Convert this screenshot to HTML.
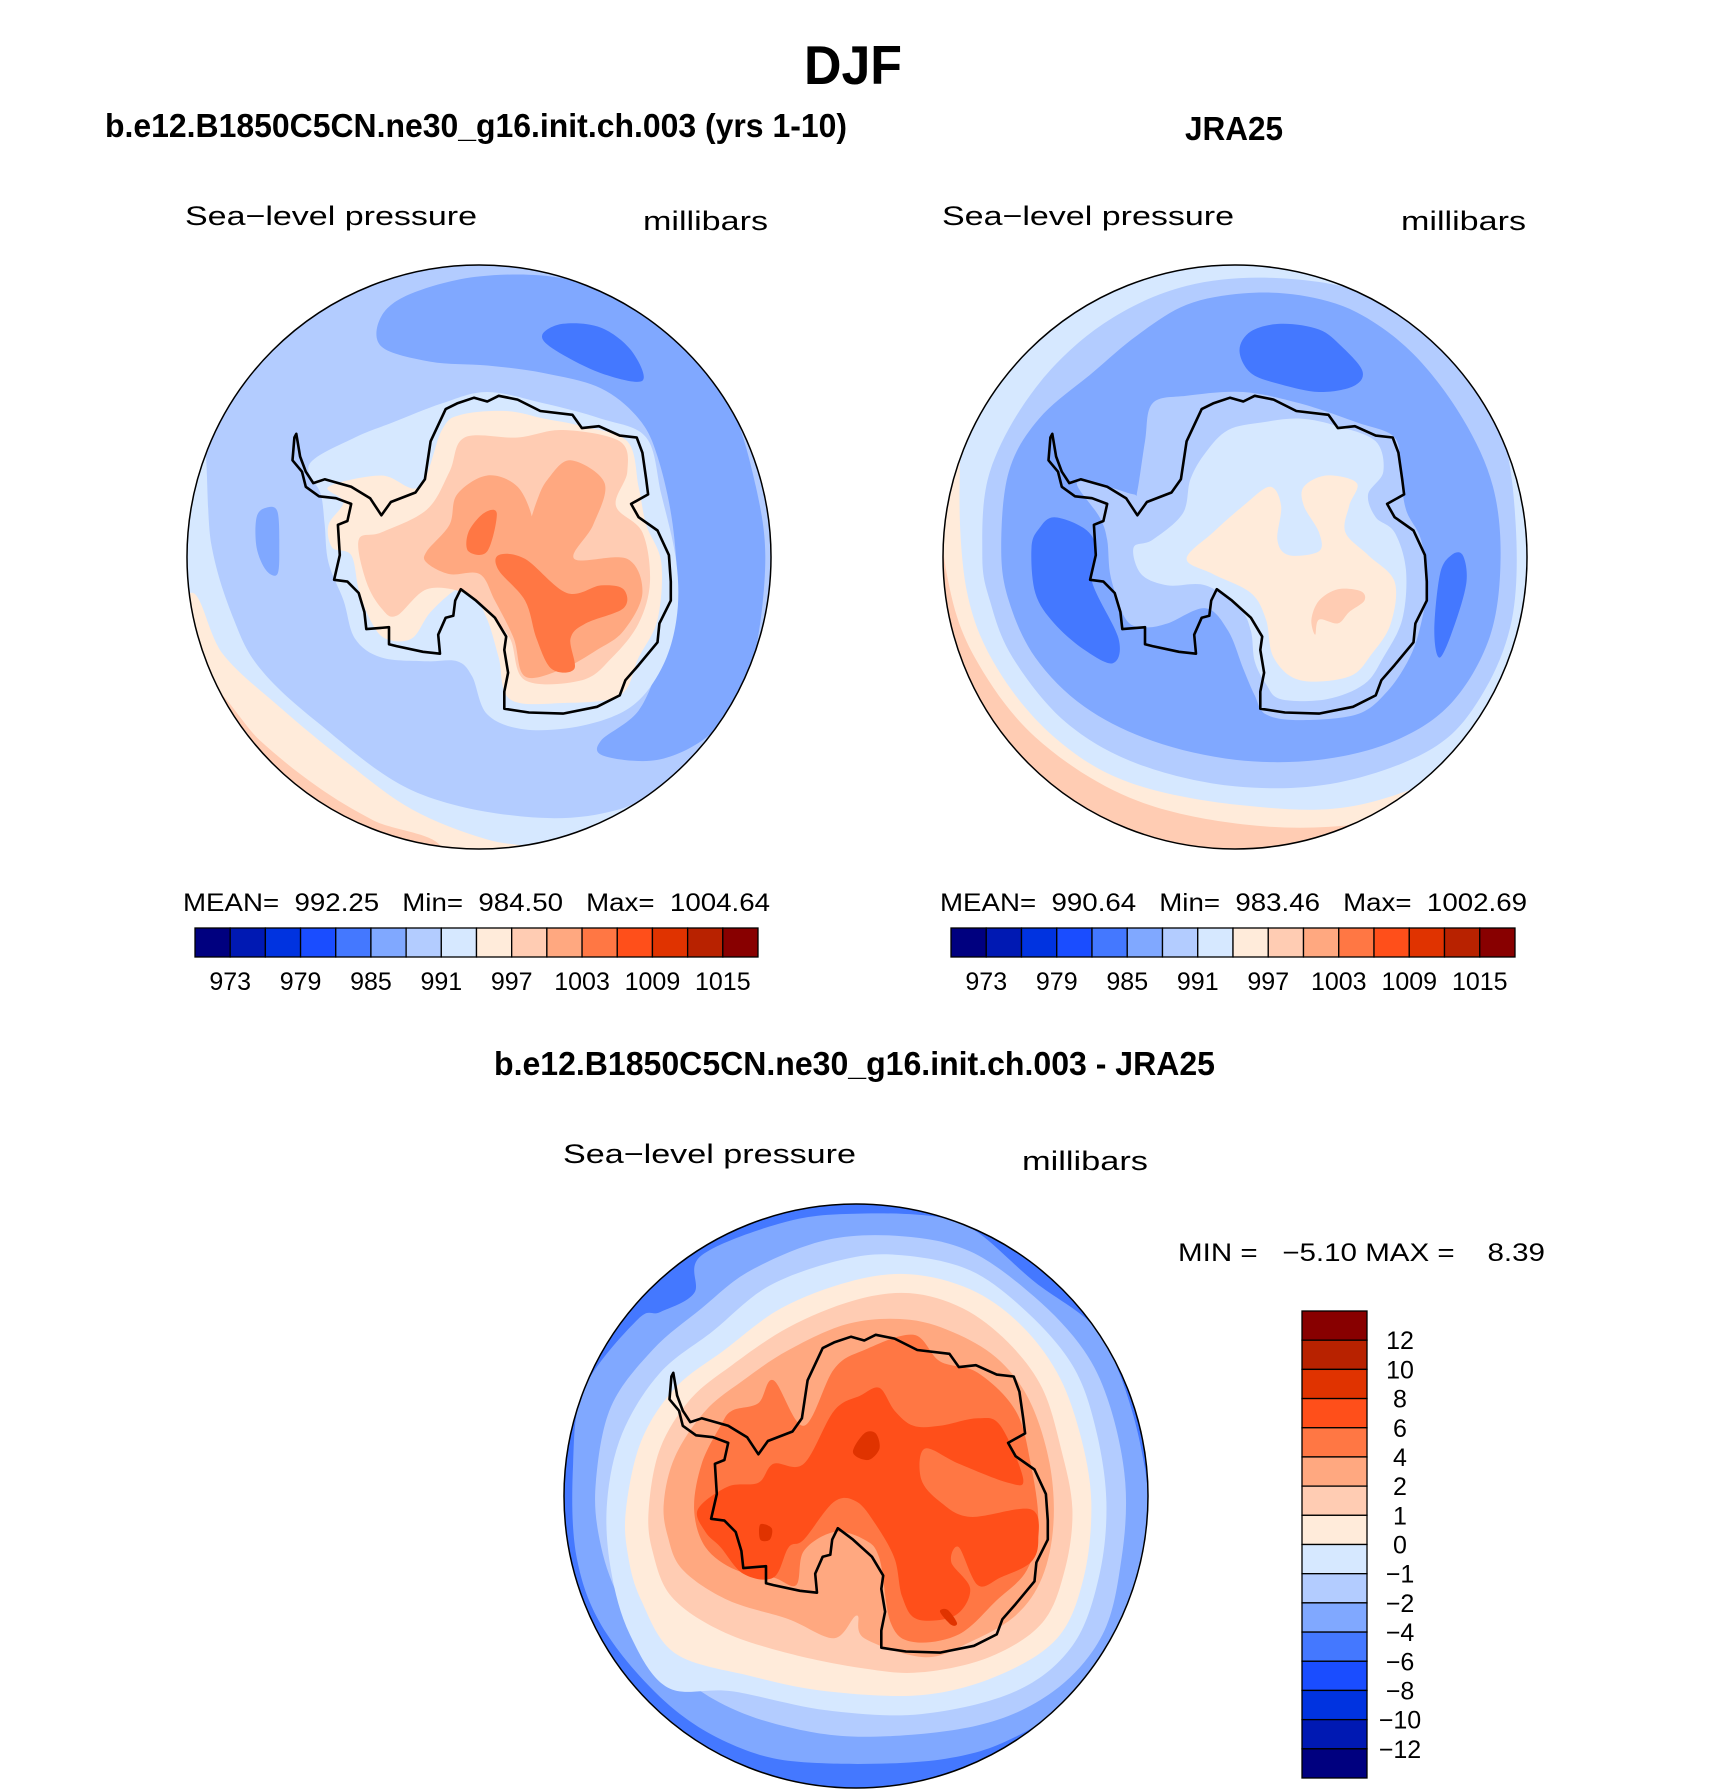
<!DOCTYPE html>
<html><head><meta charset="utf-8">
<style>
html,body{margin:0;padding:0;background:#fff;}
svg{display:block;}
text{font-family:"Liberation Sans",sans-serif;fill:#000;}
</style></head>
<body>
<svg id="fig" width="1710" height="1790" viewBox="0 0 1710 1790" xmlns="http://www.w3.org/2000/svg">
<rect x="0" y="0" width="1710" height="1790" fill="#fff"/>
<text x="804" y="84" font-size="55" font-weight="bold" textLength="98" lengthAdjust="spacingAndGlyphs">DJF</text>
<text x="105" y="137" font-size="33" font-weight="bold" textLength="742" lengthAdjust="spacingAndGlyphs">b.e12.B1850C5CN.ne30_g16.init.ch.003 (yrs 1-10)</text>
<text x="1185" y="140" font-size="33" font-weight="bold" textLength="98" lengthAdjust="spacingAndGlyphs">JRA25</text>
<text x="494" y="1075" font-size="33" font-weight="bold" textLength="721" lengthAdjust="spacingAndGlyphs">b.e12.B1850C5CN.ne30_g16.init.ch.003 - JRA25</text>

<text x="185" y="225" font-size="27" textLength="292" lengthAdjust="spacingAndGlyphs">Sea−level pressure</text>
<text x="643" y="230" font-size="27" textLength="125" lengthAdjust="spacingAndGlyphs">millibars</text>
<text x="942" y="225" font-size="27" textLength="292" lengthAdjust="spacingAndGlyphs">Sea−level pressure</text>
<text x="1401" y="230" font-size="27" textLength="125" lengthAdjust="spacingAndGlyphs">millibars</text>
<text x="563" y="1163" font-size="27" textLength="293" lengthAdjust="spacingAndGlyphs">Sea−level pressure</text>
<text x="1022" y="1170" font-size="27" textLength="126" lengthAdjust="spacingAndGlyphs">millibars</text>

<text x="183" y="911" font-size="25" xml:space="preserve" textLength="587" lengthAdjust="spacingAndGlyphs">MEAN=  992.25   Min=  984.50   Max=  1004.64</text>
<text x="940" y="911" font-size="25" xml:space="preserve" textLength="587" lengthAdjust="spacingAndGlyphs">MEAN=  990.64   Min=  983.46   Max=  1002.69</text>
<text x="1178" y="1261" font-size="25" xml:space="preserve" textLength="367" lengthAdjust="spacingAndGlyphs">MIN =   −5.10 MAX =    8.39</text>
<g id="layer"></g>
</svg>
<script>
const NS = "http://www.w3.org/2000/svg";
const absColors = ["#00007F","#0019B3","#0033E0","#1A4DFF","#4478FF","#80A8FF","#B3CCFF","#D6E8FF","#FFEBDA","#FFCCB3","#FFA880","#FF7744","#FF4F1A","#E03300","#B82200","#880000"];
const absTickLabels = ["973","979","985","991","997","1003","1009","1015"];
const diffTickLabels = ["12","10","8","6","4","2","1","0","−1","−2","−4","−6","−8","−10","−12"];

const leftBase = 6;
const leftContours = [
 {level:7, pts:[[40,450],[70,750],[130,950],[200,1080],[350,1220],[600,1400],[900,1470],[1150,1450],[1400,1330],[1600,1450],[1300,1750],[400,1800],[-50,1400],[-80,800]]},
 {level:8, pts:[[15,880],[100,1040],[250,1180],[420,1320],[600,1450],[800,1530],[1000,1570],[1100,1700],[500,1800],[0,1500],[-80,1100]]},
 {level:9, pts:[[50,1120],[200,1270],[350,1390],[500,1480],[680,1560],[500,1750],[100,1650],[-60,1300]]},
 {level:10, pts:[[90,1240],[200,1360],[330,1460],[450,1540],[300,1700],[0,1600],[-50,1350]]},
 {level:5, pts:[[520,150],[600,90],[780,45],[1000,50],[1200,125],[1350,250],[1450,400],[1510,600],[1535,780],[1515,1000],[1470,1150],[1380,1260],[1250,1320],[1110,1310],[1100,1270],[1200,1190],[1260,1050],[1300,900],[1290,700],[1250,520],[1200,420],[1100,340],[950,300],[800,280],[650,270],[520,230]]},
 {level:5, pts:[[190,680],[215,655],[245,665],[250,760],[245,830],[215,820],[190,760]]},
 {level:4, pts:[[945,200],[1000,170],[1100,180],[1180,240],[1210,320],[1100,300],[980,240]]},
 {level:7, pts:[[330,540],[450,470],[550,430],[680,380],[800,350],[950,380],[1100,420],[1220,470],[1260,620],[1300,800],[1300,950],[1260,1080],[1180,1180],[1050,1230],[900,1240],[800,1200],[760,1100],[720,1060],[640,1060],[520,1050],[450,1000],[420,900],[380,800],[370,700],[360,620]]},
 {level:8, pts:[[380,600],[520,570],[620,600],[680,450],[730,410],[850,400],[950,420],[1050,440],[1170,480],[1200,600],[1220,700],[1260,800],[1250,950],[1200,1050],[1150,1150],[1000,1170],[860,1160],[830,1050],[800,950],[760,880],[720,870],[650,930],[600,1000],[530,1000],[490,950],[460,870],[440,780],[390,760],[380,700],[420,640]]},
 {level:9, pts:[[460,740],[520,720],[640,660],[700,560],[740,470],[880,470],[1000,450],[1150,480],[1170,560],[1140,650],[1210,720],[1230,850],[1200,960],[1130,1050],[1050,1110],[900,1110],[860,1000],[800,930],[740,880],[640,870],[560,940],[520,920],[480,850]]},
 {level:10, pts:[[640,770],[700,700],[720,620],[800,570],[880,600],[920,690],[900,740],[930,640],[960,580],[1020,530],[1110,590],[1080,700],[1030,790],[1170,790],[1210,880],[1160,980],[1090,1030],[1000,1080],[900,1100],[870,1000],[820,900],[780,830],[700,830],[640,800]]},
 {level:11, pts:[[750,720],[790,670],[825,670],[800,770],[750,770]]},
 {level:11, pts:[[830,780],[900,790],[1010,880],[1100,860],[1160,870],[1160,920],[1060,960],[1020,1000],[1030,1080],[970,1080],[930,1000],[900,900],[830,820]]}
];

const rightBase = 9;
const rightContours = [
 {level:8, pts:[[0,-50],[1650,-50],[1650,1250],[1400,1420],[1100,1490],[800,1490],[500,1420],[250,1260],[90,1050],[20,850],[0,600]]},
 {level:7, pts:[[50,600],[80,400],[250,180],[450,60],[700,0],[1100,0],[1350,120],[1500,350],[1560,600],[1560,900],[1500,1150],[1400,1320],[1100,1440],[800,1440],[500,1380],[300,1260],[150,1080],[70,880]]},
 {level:6, pts:[[110,780],[130,560],[250,340],[430,170],[650,70],[900,50],[1150,100],[1350,250],[1480,450],[1520,700],[1510,950],[1430,1150],[1300,1290],[1050,1380],[780,1390],[520,1330],[330,1220],[190,1050],[130,900]]},
 {level:5, pts:[[160,760],[180,560],[260,420],[400,300],[520,200],[650,120],[800,90],[950,95],[1100,140],[1250,250],[1380,420],[1460,600],[1480,800],[1450,1000],[1350,1170],[1200,1270],[1000,1320],[780,1320],[560,1270],[380,1180],[250,1050],[180,900]]},
 {level:4, pts:[[790,240],[820,190],[900,170],[1000,185],[1060,230],[1115,295],[1090,335],[1000,350],[900,330],[820,300]]},
 {level:4, pts:[[240,760],[260,710],[300,680],[380,710],[410,760],[400,850],[470,1000],[455,1065],[380,1030],[300,960],[250,880]]},
 {level:4, pts:[[1320,830],[1350,780],[1380,780],[1390,850],[1360,960],[1320,1050],[1305,980]]},
 {level:6, pts:[[520,610],[540,480],[560,380],[650,360],[800,350],[950,380],[1100,430],[1200,470],[1215,560],[1230,660],[1270,740],[1285,860],[1270,960],[1240,1050],[1180,1140],[1100,1200],[950,1215],[860,1200],[830,1150],[800,1080],[760,980],[700,920],[600,960],[540,970],[490,950],[450,840],[440,740],[420,680],[360,590],[440,600],[510,620]]},
 {level:7, pts:[[510,760],[560,740],[640,670],[660,580],[700,510],[760,450],[850,430],[950,420],[1050,440],[1150,480],[1170,560],[1130,620],[1150,680],[1200,720],[1230,820],[1220,950],[1170,1050],[1120,1120],[1020,1160],[900,1160],[860,1120],[830,1060],[820,980],[790,920],[700,860],[600,860],[530,830]]},
 {level:8, pts:[[650,790],[720,720],[800,650],[870,600],[900,650],[890,740],[920,780],[1000,770],[1000,720],[960,650],[960,600],[1020,570],[1100,590],[1080,650],[1070,720],[1130,780],[1200,850],[1190,960],[1140,1040],[1080,1100],[950,1110],[880,1050],[860,950],[820,880],[720,830]]},
 {level:9, pts:[[1000,900],[1050,870],[1110,875],[1120,900],[1080,930],[1050,960],[1000,950],[990,990],[980,950]]}
];

const diffBase = 4;
const diffContours = [
 {level:5, pts:[[30,700],[60,500],[200,320],[260,300],[350,250],[370,150],[600,60],[800,40],[1000,50],[1100,90],[1250,220],[1400,330],[1470,450],[1530,650],[1550,850],[1500,1100],[1400,1280],[1200,1420],[1000,1480],[700,1490],[500,1460],[300,1350],[120,1150],[40,950]]},
 {level:6, pts:[[90,750],[130,550],[240,400],[370,290],[500,190],[700,110],[900,100],[1080,140],[1250,260],[1380,400],[1450,550],[1490,750],[1480,950],[1430,1150],[1300,1300],[1100,1390],[800,1420],[580,1390],[400,1320],[250,1200],[150,1050],[100,900]]},
 {level:7, pts:[[120,800],[160,620],[260,460],[400,350],[550,230],[750,160],[900,150],[1080,190],[1230,300],[1350,440],[1410,600],[1440,800],[1420,1000],[1350,1180],[1200,1300],[950,1360],[700,1350],[450,1300],[280,1290],[180,1150],[130,980]]},
 {level:8, pts:[[170,820],[210,640],[300,500],[430,400],[580,290],[760,220],[920,200],[1080,240],[1210,330],[1310,460],[1370,620],[1400,800],[1380,1000],[1310,1160],[1150,1260],[950,1310],[700,1300],[500,1260],[300,1200],[210,1060],[175,940]]},
 {level:9, pts:[[230,820],[260,660],[340,530],[450,440],[600,340],[770,270],[920,250],[1060,290],[1180,380],[1270,500],[1320,660],[1350,820],[1330,980],[1270,1120],[1130,1210],[950,1250],[800,1240],[600,1200],[420,1140],[290,1050],[240,930]]},
 {level:10, pts:[[270,800],[300,680],[380,560],[480,480],[600,400],[760,330],[920,320],[1050,360],[1160,430],[1240,540],[1290,700],[1300,860],[1270,1000],[1200,1100],[1080,1170],[960,1210],[800,1160],[780,1100],[720,1160],[600,1110],[440,1060],[320,980],[280,890]]},
 {level:11, pts:[[350,820],[370,700],[420,600],[450,560],[520,540],[560,480],[640,600],[720,450],[800,400],[930,360],[1000,430],[1100,460],[1200,560],[1240,700],[1260,860],[1230,980],[1150,1060],[1050,1150],[930,1170],[870,1120],[840,950],[800,900],[720,880],[640,930],[620,1020],[560,1000],[460,980],[380,920]]},
 {level:12, pts:[[360,820],[440,760],[520,750],[560,700],[640,700],[720,560],[790,520],[840,500],[880,560],[930,600],[1000,600],[1100,580],[1160,600],[1220,740],[1180,750],[1050,700],[960,660],[950,740],[1000,800],[1080,840],[1240,820],[1260,900],[1240,960],[1160,1000],[1100,1020],[1050,920],[1030,960],[1080,1030],[1040,1100],[940,1110],[900,1050],[880,950],[830,860],[780,800],[720,800],[640,900],[600,920],[560,1000],[480,990],[420,920],[380,880]]},
 {level:13, pts:[[770,670],[800,620],[830,620],[840,660],[810,690]]},
 {level:13, pts:[[525,860],[555,870],[550,900],[525,900]]},
 {level:13, pts:[[1000,1090],[1020,1085],[1045,1120],[1030,1125]]}
];

const coastline = [[295,460],[305,520],[320,560],[340,590],[370,580],[440,600],[490,630],[520,675],[545,640],[610,615],[635,580],[650,480],[690,395],[720,380],[765,365],[800,375],[830,360],[880,370],[940,400],[1025,410],[1050,445],[1095,440],[1150,465],[1195,470],[1210,510],[1220,580],[1225,620],[1180,645],[1200,680],[1250,715],[1280,780],[1285,850],[1285,900],[1255,960],[1250,1010],[1200,1070],[1165,1110],[1150,1150],[1090,1180],[1000,1198],[910,1195],[845,1185],[845,1140],[855,1090],[845,1030],[850,995],[820,945],[770,900],[730,870],[715,900],[710,940],[690,945],[670,990],[675,1040],[630,1035],[560,1020],[540,1015],[540,970],[480,975],[475,930],[460,880],[430,850],[395,845],[410,780],[405,700],[430,690],[440,645],[400,630],[355,625],[320,600],[310,560],[285,530],[290,470]];

const maps = [
 {name:"model-map", cx:479, cy:557, r:292, base:leftBase, contours:leftContours},
 {name:"obs-map", cx:1235, cy:557, r:292, base:rightBase, contours:rightContours},
 {name:"diff-map", cx:856, cy:1496, r:292, base:diffBase, contours:diffContours}
];

const layer = document.getElementById('layer');
function mk(tag, attrs){const e=document.createElementNS(NS,tag);for(const k in attrs)e.setAttribute(k,attrs[k]);return e;}
function proj(m,p){return [m.cx+(p[0]-778)/772*m.r, m.cy+(p[1]-785)/770*m.r];}
function smoothPath(pts){
  const n=pts.length;let d="M"+pts[0][0].toFixed(1)+","+pts[0][1].toFixed(1);
  for(let i=0;i<n;i++){
    const p0=pts[(i-1+n)%n],p1=pts[i],p2=pts[(i+1)%n],p3=pts[(i+2)%n];
    const c1=[p1[0]+(p2[0]-p0[0])/6,p1[1]+(p2[1]-p0[1])/6];
    const c2=[p2[0]-(p3[0]-p1[0])/6,p2[1]-(p3[1]-p1[1])/6];
    d+="C"+c1[0].toFixed(1)+","+c1[1].toFixed(1)+" "+c2[0].toFixed(1)+","+c2[1].toFixed(1)+" "+p2[0].toFixed(1)+","+p2[1].toFixed(1);
  }
  return d+"Z";
}
function linePath(pts){return "M"+pts.map(p=>p[0].toFixed(1)+","+p[1].toFixed(1)).join("L")+"Z";}

const defs = mk('defs',{});
layer.appendChild(defs);
maps.forEach((m,mi)=>{
  const cp = mk('clipPath',{id:'clip'+mi});
  cp.appendChild(mk('circle',{cx:m.cx,cy:m.cy,r:m.r}));
  defs.appendChild(cp);
  const g = mk('g',{'clip-path':'url(#clip'+mi+')'});
  
  
  const bg = mk('circle',{cx:m.cx,cy:m.cy,r:m.r,fill:absColors[m.base]});
  
  
  g.appendChild(bg);
  m.contours.forEach(c=>{
    const p = mk('path',{d:smoothPath(c.pts.map(q=>proj(m,q))),fill:absColors[c.level]});
    
    
    g.appendChild(p);
  });
  const coast = mk('path',{d:linePath(coastline.map(q=>proj(m,q))),fill:'none',stroke:'#000','stroke-width':2.6,'stroke-linejoin':'round'});
  
  
  g.appendChild(coast);
  layer.appendChild(g);
  const rim = mk('circle',{cx:m.cx,cy:m.cy,r:m.r,fill:'none',stroke:'#000','stroke-width':1.5});
  
  
  layer.appendChild(rim);
});

[{name:"model-colorbar",x0:195,x1:758},{name:"obs-colorbar",x0:951,x1:1515}].forEach(cb=>{
  const g = mk('g',{});
  
  
  const w=(cb.x1-cb.x0)/absColors.length;
  absColors.forEach((c,i)=>{
    const r = mk('rect',{x:cb.x0+i*w,y:928,width:w,height:29,fill:c,stroke:'#000','stroke-width':1.3});
    
    
    g.appendChild(r);
  });
  absTickLabels.forEach((t,i)=>{
    const tx = mk('text',{x:cb.x0+(1+2*i)*w,y:990,'font-size':25,'text-anchor':'middle'});
    tx.textContent=t;
    
    
    g.appendChild(tx);
  });
  layer.appendChild(g);
});

(function(){
  const g = mk('g',{});
  
  
  const y0=1311,y1=1778,x0=1302,x1=1367;
  const h=(y1-y0)/absColors.length;
  absColors.slice().reverse().forEach((c,i)=>{
    const r = mk('rect',{x:x0,y:y0+i*h,width:x1-x0,height:h,fill:c,stroke:'#000','stroke-width':1.3});
    
    
    g.appendChild(r);
  });
  diffTickLabels.forEach((t,i)=>{
    const tx = mk('text',{x:1400,y:y0+(i+1)*h+9,'font-size':25,'text-anchor':'middle'});
    tx.textContent=t;
    
    
    g.appendChild(tx);
  });
  layer.appendChild(g);
})();
</script>
</body></html>
